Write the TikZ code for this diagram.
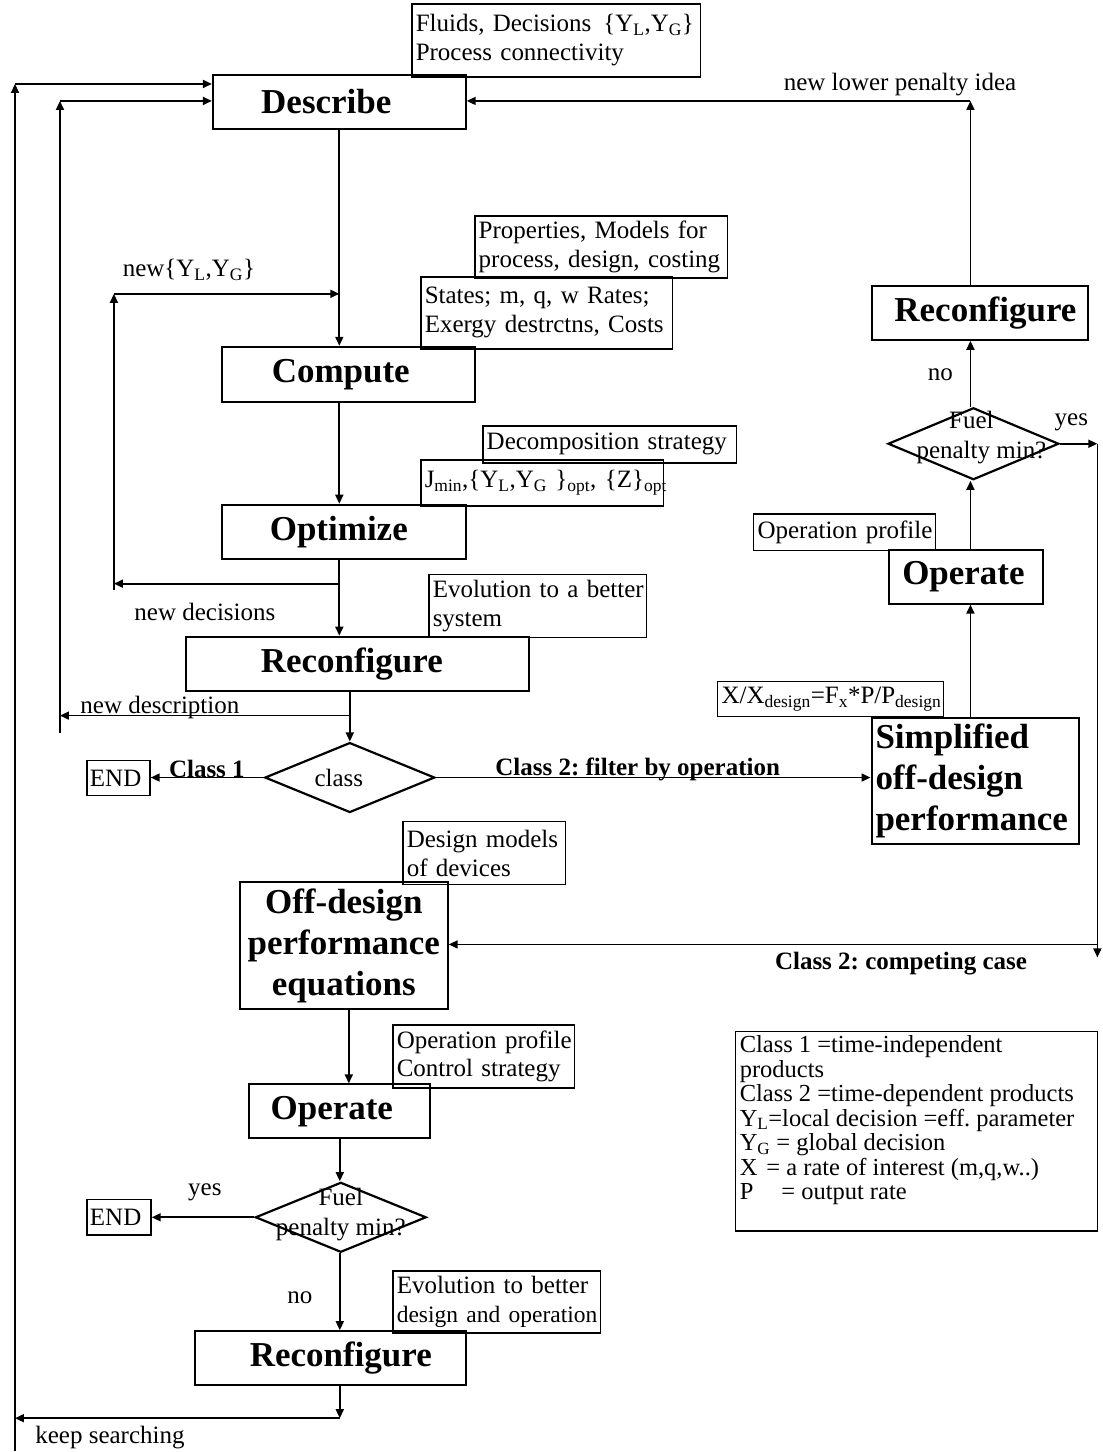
\documentclass[tikz,border=0pt]{standalone}
\usepackage{fontspec}
\setmainfont{Liberation Serif}
\usetikzlibrary{arrows.meta,shapes.geometric}
\begin{document}
\frenchspacing
\begin{tikzpicture}[x=1pt,y=-1pt,
  box/.style={draw, line width=2pt, inner sep=0pt, align=center, font=\bfseries\fontsize{35}{41}\selectfont},
  note/.style={draw, line width=1.6pt, inner xsep=4pt, inner ysep=0pt, align=left, font=\fontsize{25}{29}\selectfont},
  lbl/.style={inner sep=0pt, font=\fontsize{25}{30}\selectfont},
  blbl/.style={inner sep=0pt, font=\bfseries\fontsize{25}{30}\selectfont},
  dec/.style={draw, diamond, line width=2.2pt, inner sep=0pt},
  arr/.style={line width=1.7pt, -{Triangle[length=9pt,width=8pt]}},
]
\path[fill=white] (0,0) rectangle (1103,1452);

% ---------- boxes ----------
\node[note, text width=281pt, minimum height=73pt] (fluids) at (556.5,40.5) {\mbox{Fluids, Decisions\hspace{12pt}\{Y\textsubscript{L},Y\textsubscript{G}\}}\\\mbox{Process connectivity}};
\node[box, minimum width=253pt, minimum height=54pt] (describe) at (339.5,102) {\hspace*{-26pt}Describe};
\node[note, text width=245pt, minimum height=62pt] (props) at (601.5,247) {\mbox{Properties, Models for}\\\mbox{process, design, costing}};
\node[note, text width=244pt, minimum height=72pt] (states) at (547,313) {\mbox{States; m, q, w Rates;}\\\mbox{Exergy destrctns, Costs}};
\node[box, minimum width=253pt, minimum height=55pt] (compute) at (348.5,374.5) {\hspace*{-15pt}Compute};
\node[note, text width=246pt, minimum height=37pt] (decomp) at (610,444.5) {\mbox{Decomposition strategy}};
\node[note, text width=235pt, minimum height=46pt] (jmin) at (542.5,483) {\mbox{J\textsubscript{min},\{Y\textsubscript{L},Y\textsubscript{G} \}\textsubscript{opt}, \{Z\}\textsubscript{opt}}};
\node[box, minimum width=244pt, minimum height=54pt] (optimize) at (344,532) {\hspace*{-10pt}Optimize};
\node[note, text width=210pt, minimum height=63pt] (evol1) at (538,606.5) {\mbox{Evolution to a better}\\\mbox{system}};
\node[box, minimum width=343pt, minimum height=54pt] (reconf1) at (357.5,664) {\hspace*{-11pt}Reconfigure};
\node[dec, minimum width=170pt, minimum height=70pt] (cls) at (350,778) {};
\node[lbl] (clstxt) at (339,778) {class};
\node[note, inner xsep=3pt, text width=57pt, minimum height=35pt] (end1) at (118.5,778.5) {\mbox{END}};
\node[box, align=left, inner xsep=4pt, text width=200pt, minimum height=126pt] (simpl) at (976,781) {\mbox{Simplified}\\\mbox{off-design}\\\mbox{performance}};
\node[note, text width=218pt, minimum height=35pt] (xx) at (831,699.5) {\mbox{X/X\textsubscript{design}=F\textsubscript{x}*P/P\textsubscript{design}}};
\node[box, minimum width=154pt, minimum height=54pt] (operate2) at (967,577) {\hspace*{-6pt}Operate};
\node[note, text width=174pt, minimum height=37pt] (opprof) at (845,532.5) {\mbox{Operation profile}};
\node[dec, minimum width=171pt, minimum height=72pt] (fuel2) at (974,444) {};
\node[lbl, align=center] (fuel2txt) at (982,438) {\hspace*{-20pt}Fuel\\penalty min?};
\node[box, minimum width=217pt, minimum height=54pt] (reconf2) at (980.5,313) {\hspace*{11pt}Reconfigure};
\node[note, text width=155pt, minimum height=63pt] (design) at (484.5,853.5) {\mbox{Design models}\\\mbox{of devices}};
\node[box, minimum width=208pt, minimum height=127pt] (offd) at (344,946.5) {Off-design\\performance\\equations};
\node[note, text width=174pt, minimum height=63pt] (opctrl) at (484,1057) {\mbox{Operation profile}\\\mbox{Control strategy}};
\node[box, minimum width=181pt, minimum height=54pt] (operate3) at (339.5,1112) {\hspace*{-15pt}Operate};
\node[dec, minimum width=171pt, minimum height=70pt] (fuel3) at (341,1218) {};
\node[lbl, align=center] (fuel3txt) at (341,1215) {Fuel\\penalty min?};
\node[note, inner xsep=3pt, text width=58pt, minimum height=36pt] (end2) at (119,1218) {\mbox{END}};
\node[note, text width=200pt, minimum height=62pt] (evol3) at (497,1303) {\mbox{Evolution to better}\\\mbox{\fontsize{23.5}{29}\selectfont design and operation}};
\node[box, minimum width=271pt, minimum height=54pt] (reconf3) at (330.5,1359) {\hspace*{21pt}Reconfigure};
\node[draw, line width=1.6pt, minimum width=362pt, minimum height=200pt, inner sep=0pt] (legend) at (917,1132) {};
\node[lbl, anchor=west, align=left, font=\fontsize{24.5}{24.5}\selectfont] (legendtxt) at (740,1121)
 {Class 1 =time-independent\\products\\Class 2 =time-dependent products\\Y\textsubscript{L}=local decision =eff. parameter\\Y\textsubscript{G} = global decision\\X\hspace{9pt}= a rate of interest (m,q,w..)\\P\hspace{28pt}= output rate};

% ---------- free labels ----------
\node[lbl] (newY) at (189,270) {new\{Y\textsubscript{L},Y\textsubscript{G}\}};
\node[lbl] (newlow) at (900.5,85) {new lower penalty idea};
\node[lbl] (newdec) at (205,612) {new decisions};
\node[lbl] (newdesc) at (160,708) {new description};
\node[blbl] (c1) at (207,769) {Class 1};
\node[blbl] (c2f) at (638,770) {Class 2: filter by operation};
\node[blbl] (c2c) at (901.5,964) {Class 2: competing case};
\node[lbl] (no2) at (941,375) {no};
\node[lbl] (yes2) at (1072,423) {yes};
\node[lbl] (yes3) at (205,1193) {yes};
\node[lbl] (no3) at (300,1298) {no};
\node[lbl] (keep) at (110,1438) {keep searching};

% ---------- coordinates ----------
\coordinate (Ltop) at (15,84);
\coordinate (Lbot) at (15,1452);
\coordinate (Mtop) at (60,101);
\coordinate (Mbot) at (60,733);
\coordinate (Ntop) at (114,294);
\coordinate (Nbot) at (114,590);
\coordinate (nd) at (114,584);
\coordinate (col2) at (350,716);
\coordinate (ndesc) at (60,716);
\coordinate (rc) at (971,101);
\coordinate (yr) at (1098,444);
\coordinate (yb) at (1098,958);
\coordinate (cc) at (1098,945);
\coordinate (bc1) at (349,1050);
\coordinate (bc2) at (340,1419);

% ---------- connectors ----------
\draw[arr] (Lbot) -- (Ltop);
\draw[arr] (Ltop) -- (Ltop -| describe.west);
\draw[arr] (Mbot) -- (Mtop);
\draw[arr] (Mtop) -- (Mtop -| describe.west);

\draw[arr] (describe.south) -- (compute.north -| describe.south);
\draw[arr] (Nbot) -- (Ntop);
\draw[arr] (Ntop) -- (Ntop -| describe.south);
\draw[arr] (compute.south -| describe.south) -- (optimize.north -| describe.south);
\draw[arr] (optimize.south -| describe.south) -- (reconf1.north -| describe.south);
\draw[arr] (nd -| describe.south) -- (nd);

\draw[arr] (reconf1.south -| col2) -- (cls.north);
\draw[arr] (col2) -- (ndesc);
\draw[arr] (cls.west) -- (cls.west -| end1.east);
\draw[arr] (cls.east) -- (cls.east -| simpl.west);

\draw[arr] (simpl.north -| rc) -- (operate2.south -| rc);
\draw[arr] (operate2.north -| rc) -- (fuel2.south -| rc);
\draw[arr] (fuel2.north -| rc) -- (reconf2.south -| rc);
\draw[arr] (reconf2.north -| rc) -- (rc);
\draw[arr] (rc) -- (rc -| describe.east);

\draw[arr] (fuel2.east) -- (yr);
\draw[arr] (yr) -- (yb);
\draw[arr] (cc) -- (cc -| offd.east);

\draw[arr] (offd.south -| bc1) -- (operate3.north -| bc1);
\draw[arr] (operate3.south -| bc2) -- (fuel3.north -| bc2);
\draw[arr] (fuel3.west) -- (fuel3.west -| end2.east);
\draw[arr] (fuel3.south -| bc2) -- (reconf3.north -| bc2);
\draw[arr] (reconf3.south -| bc2) -- (bc2);
\draw[arr] (bc2) -- (bc2 -| Lbot);
\end{tikzpicture}
\end{document}
